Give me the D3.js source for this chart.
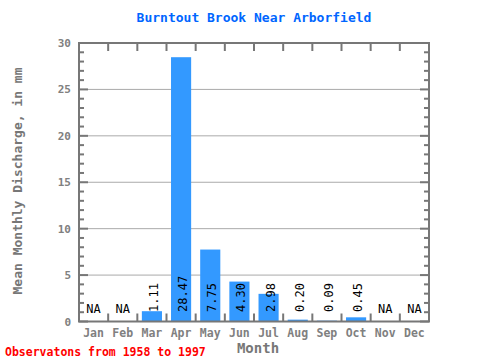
<!DOCTYPE html>
<html><head><meta charset="utf-8">
<script src="https://cdn.jsdelivr.net/npm/d3@7"></script>
<style>body{margin:0;background:#fff}svg{display:block}</style>
</head><body>
<svg id="c" width="480" height="360"></svg>
<script>
const months = ["Jan","Feb","Mar","Apr","May","Jun","Jul","Aug","Sep","Oct","Nov","Dec"];
const values = [null,null,1.11,28.47,7.75,4.30,2.98,0.20,0.09,0.45,null,null];
const labels = ["NA","NA","1.11","28.47","7.75","4.30","2.98","0.20","0.09","0.45","NA","NA"];
const yTicks = [0,5,10,15,20,25,30];
const title = "Burntout Brook Near Arborfield";
const yTitle = "Mean Monthly Discharge, in mm";
const xTitle = "Month";
const note = "Observatons from 1958 to 1997";

const svg = d3.select("#c");
const L=79,R=429,T=43,B=321.5;
const font = "'DejaVu Sans Mono', monospace";
const gray = "#777";
const x = d3.scaleBand().domain(months).range([L,R]).paddingInner(0.31).paddingOuter(0.155);
const xb = d3.scaleBand().domain(months).range([L,R]);
const y = d3.scaleLinear().domain([0,30]).range([B,T]);

// gridlines
svg.append("g").selectAll("line").data(yTicks.filter(d=>d>0&&d<30)).join("line")
  .attr("x1",L).attr("x2",R).attr("y1",d=>y(d)).attr("y2",d=>y(d))
  .attr("stroke","#aaa").attr("stroke-width",1);

// bars
svg.append("g").selectAll("rect").data(months.map((m,i)=>({m,v:values[i]})).filter(d=>d.v!=null)).join("rect")
  .attr("x",d=>x(d.m)).attr("width",x.bandwidth())
  .attr("y",d=>y(d.v)).attr("height",d=>B-y(d.v))
  .attr("fill","#3399ff");

// ticks
const minor = d3.range(0,31);
const g = svg.append("g").attr("stroke",gray).attr("stroke-width",2);
g.selectAll(".lt").data(minor).join("line")
  .attr("x1",L).attr("x2",d=>L+(d%5===0?9:5)).attr("y1",d=>y(d)).attr("y2",d=>y(d));
g.selectAll(".rt").data(minor).join("line")
  .attr("x1",R).attr("x2",d=>R-(d%5===0?9:5)).attr("y1",d=>y(d)).attr("y2",d=>y(d));
const bounds = months.slice(1).map(m=>xb(m));
g.selectAll(".tt").data(bounds).join("line")
  .attr("x1",d=>d).attr("x2",d=>d).attr("y1",T).attr("y2",T+8);
g.selectAll(".bt").data(bounds).join("line")
  .attr("x1",d=>d).attr("x2",d=>d).attr("y1",B).attr("y2",B-8);
svg.append("rect").attr("x",L).attr("y",T).attr("width",R-L).attr("height",B-T)
  .attr("fill","none").attr("stroke",gray).attr("stroke-width",2);

// y tick labels
svg.append("g").selectAll("text").data(yTicks).join("text")
  .attr("x",71).attr("y",d=>y(d)+4).attr("text-anchor","end")
  .attr("font-family",font).attr("font-size",11).attr("font-weight","bold")
  .attr("fill","#808080").text(d=>d);

// x tick labels
svg.append("g").selectAll("text").data(months).join("text")
  .attr("x",d=>xb(d)+xb.bandwidth()/2).attr("y",337).attr("text-anchor","middle")
  .attr("font-family",font).attr("font-size",11.5).attr("font-weight","bold")
  .attr("fill","#808080").text(d=>d);

// value labels
months.forEach((m,i)=>{
  const cx = xb(m)+xb.bandwidth()/2;
  if(values[i]==null){
    svg.append("text").attr("x",cx).attr("y",313).attr("text-anchor","middle")
      .attr("font-family",font).attr("font-size",12).attr("fill","#000").text(labels[i]);
  } else {
    svg.append("text").attr("transform",`translate(${cx+6},312) rotate(-90)`)
      .attr("text-anchor","start")
      .attr("font-family",font).attr("font-size",12).attr("fill","#000").text(labels[i]);
  }
});

// titles
svg.append("text").attr("x",254).attr("y",22).attr("text-anchor","middle")
  .attr("font-family",font).attr("font-size",13).attr("font-weight","bold")
  .attr("fill","#0066ff").text(title);
svg.append("text").attr("transform","translate(22,181) rotate(-90)").attr("text-anchor","middle")
  .attr("font-family",font).attr("font-size",13).attr("font-weight","bold")
  .attr("fill",gray).text(yTitle);
svg.append("text").attr("x",258).attr("y",353).attr("text-anchor","middle")
  .attr("font-family",font).attr("font-size",14).attr("font-weight","bold")
  .attr("fill",gray).text(xTitle);
svg.append("text").attr("x",5).attr("y",356)
  .attr("font-family",font).attr("font-size",11.5).attr("font-weight","bold")
  .attr("fill","#ff0000").text(note);
</script>
</body></html>
